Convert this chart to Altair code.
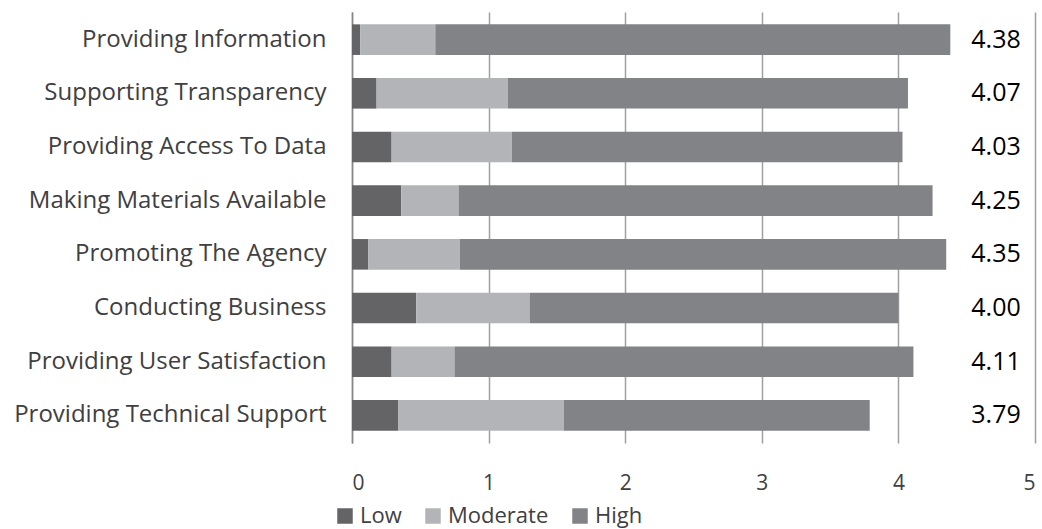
import altair as alt
import pandas as pd

categories = [
    "Providing Information",
    "Supporting Transparency",
    "Providing Access To Data",
    "Making Materials Available",
    "Promoting The Agency",
    "Conducting Business",
    "Providing User Satisfaction",
    "Providing Technical Support",
]
low = [0.06, 0.18, 0.29, 0.36, 0.12, 0.47, 0.29, 0.34]
moderate = [0.55, 0.96, 0.88, 0.42, 0.67, 0.83, 0.46, 1.21]
totals = [4.38, 4.07, 4.03, 4.25, 4.35, 4.00, 4.11, 3.79]
levels = ["Low", "Moderate", "High"]
colors = ["#646466", "#b3b4b7", "#828387"]

rows = []
for i, c in enumerate(categories):
    high = round(totals[i] - low[i] - moderate[i], 2)
    for j, (lvl, v) in enumerate(zip(levels, [low[i], moderate[i], high])):
        rows.append({"category": c, "level": lvl, "value": v, "ord": j})
df = pd.DataFrame(rows)
tot_df = pd.DataFrame({"category": categories, "total": totals,
                       "label": [f"{t:.2f}" for t in totals]})

FONT = "Open Sans"

y_enc = alt.Y("category:N", sort=categories, title=None,
              scale=alt.Scale(paddingInner=0.43, paddingOuter=0.23),
              axis=alt.Axis(labelFontSize=24, labelColor="#404040", labelFont=FONT,
                            ticks=False, labelPadding=26, domainColor="#868686",
                            domainWidth=1.5, grid=False, labelLimit=400))

bars = alt.Chart(df).mark_bar().encode(
    y=y_enc,
    x=alt.X("value:Q", stack="zero", title=None,
            scale=alt.Scale(domain=[0, 5], nice=False),
            axis=alt.Axis(values=[0, 1, 2, 3, 4, 5], format="d", labelFontSize=21,
                          labelColor="#404040", labelFont=FONT, ticks=False,
                          domain=False, grid=True, gridColor="#a0a0a0",
                          gridWidth=1.5, labelPadding=29)),
    color=alt.Color("level:N", sort=levels,
                    scale=alt.Scale(domain=levels, range=colors),
                    legend=alt.Legend(title=None, orient="none", direction="horizontal",
                                      legendX=-18, legendY=493, symbolType="square",
                                      symbolSize=240, symbolStrokeWidth=0,
                                      labelFontSize=22, labelFont=FONT,
                                      labelColor="#404040", columnPadding=20,
                                      symbolOffset=0, labelOffset=4)),
    order=alt.Order("ord:Q"),
)

labels = alt.Chart(tot_df).mark_text(fontSize=25, font=FONT, color="#000000",
                                     align="center", baseline="middle").encode(
    y=alt.Y("category:N", sort=categories),
    x=alt.value(644),
    text="label:N",
)

chart = alt.layer(bars, labels).properties(
    width=683, height=431,
    autosize=alt.AutoSizeParams(type="none"),
    padding={"left": 352, "top": 12, "right": 7, "bottom": 86},
).configure_view(stroke=None).configure_axis(gridOpacity=1)

chart.save("out.html", embed_options={"renderer": "svg", "actions": False})
